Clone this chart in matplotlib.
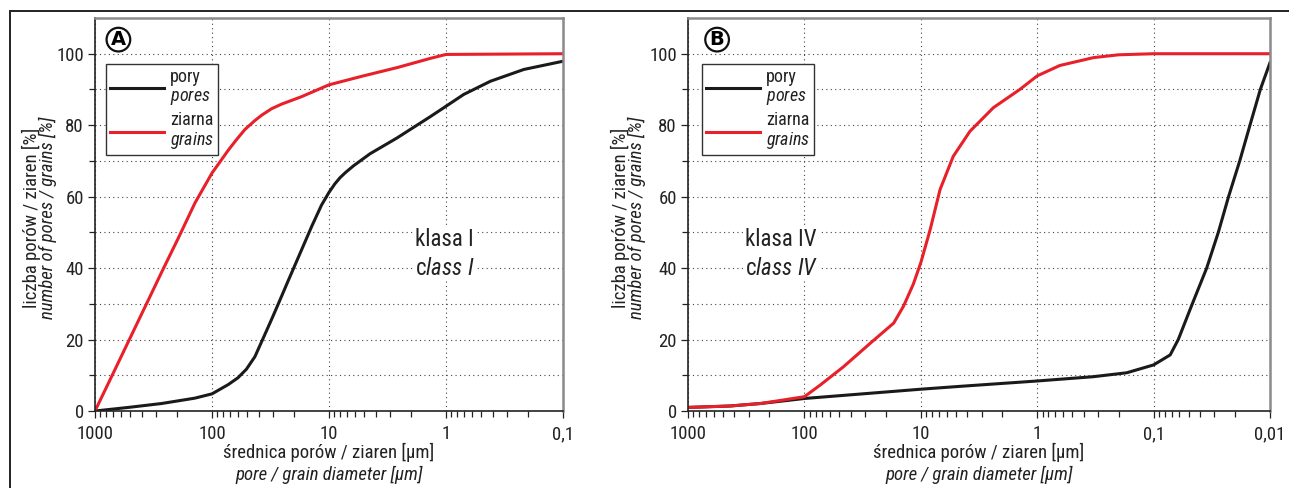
import matplotlib
matplotlib.use("Agg")
import matplotlib.pyplot as plt
from matplotlib import font_manager as fm
from matplotlib.patches import Rectangle
from matplotlib.ticker import FixedLocator, FixedFormatter, NullFormatter

installed = {f.name for f in fm.fontManager.ttflist}
FONT = next((n for n in ["Roboto Condensed", "Archivo Narrow", "Liberation Sans Narrow",
                         "PT Sans Narrow", "Asap Condensed"] if n in installed), "DejaVu Sans")
plt.rcParams["font.family"] = [FONT, "DejaVu Sans"]
plt.rcParams["mathtext.fontset"] = "custom"
plt.rcParams["mathtext.rm"] = FONT
plt.rcParams["mathtext.it"] = FONT + ":italic"

# ---- data (diameter in um, cumulative %) ----
a_pores_d = [1000, 519, 269, 140, 100, 72.6, 60, 50.8, 43, 36.6, 31, 27.1, 22.3, 19.5, 16, 14.0,
             11.6, 10, 8.9, 8.05, 7.2, 6.19, 4.46, 2.63, 1.36, 1, 0.706, 0.417, 0.216, 0.1]
a_pores_v = [0, 1.0, 2.1, 3.6, 4.8, 7.4, 9.3, 11.7, 15.2, 20.3, 25.6, 30.0, 36.5, 40.9, 47.4, 51.8,
             57.6, 61.2, 63.6, 65.3, 66.8, 68.6, 72.0, 76.4, 82.4, 85.3, 88.6, 92.3, 95.6, 97.9]
a_grains_d = [1000, 720, 519, 374, 269, 194, 140, 100, 72.6, 61.6, 52.3, 43, 37.6, 31, 25.4, 17.1,
              10, 5.08, 2.63, 1.36, 1, 0.1]
a_grains_v = [0, 9.7, 19.4, 29.1, 38.9, 48.4, 58.2, 66.6, 73.0, 76.0, 78.8, 81.3, 82.8, 84.6, 85.9,
              88.0, 91.3, 93.8, 96.1, 98.7, 99.8, 100]

b_pores_d = [1000, 435, 238, 100, 10, 4.6, 1, 0.33, 0.17, 0.1, 0.072, 0.0614, 0.0465, 0.035,
             0.0278, 0.0227, 0.0182, 0.01486, 0.01211, 0.01]
b_pores_v = [1, 1.4, 2.1, 3.5, 6.1, 6.9, 8.4, 9.6, 10.7, 12.9, 15.7, 20, 30, 40,
             50, 60, 70, 80, 90, 97.5]
b_grains_d = [1000, 435, 238, 100, 72.9, 46.1, 27.1, 17.1, 14.1, 11.6, 10, 8.32, 6.83, 5.26, 3.78,
              2.38, 1.41, 1, 0.64, 0.33, 0.2, 0.1, 0.01]
b_grains_v = [1, 1.4, 2.1, 4.0, 7.3, 12.4, 19, 24.6, 29.3, 35.5, 41.5, 50.7, 62, 71.3, 78.3,
              84.9, 90, 93.8, 96.7, 98.9, 99.7, 100, 100]

a_xticks = [1000, 100, 10, 1, 0.1]
a_xlabels = ["1000", "100", "10", "1", "0,1"]
b_xticks = [1000, 100, 10, 1, 0.1, 0.01]
b_xlabels = ["1000", "100", "10", "1", "0,1", "0,01"]

W, H = 1289, 488


def it(s):
    s = s.replace(" ", "\\ ").replace("%", "\\%")
    return "$\\mathit{" + s + "}$"


def panel(fig, ax, letter, xticks, xlabels, pores, grains, klasa, cls, txt_xy, ylab_x):
    ax.plot(pores[0], pores[1], color="#1a1a1a", lw=2.2, label="pory\n" + it("pores"))
    ax.plot(grains[0], grains[1], color="#e8202a", lw=2.2, label="ziarna\n" + it("grains"))
    ax.set_xscale("log")
    ax.set_xlim(xticks[0], xticks[-1])
    ax.set_ylim(0, 110)

    minors = [k * t for t in xticks[1:] for k in range(2, 10)]
    ax.xaxis.set_major_locator(FixedLocator(xticks))
    ax.xaxis.set_major_formatter(FixedFormatter(xlabels))
    ax.xaxis.set_minor_locator(FixedLocator(minors))
    ax.xaxis.set_minor_formatter(NullFormatter())
    ax.set_yticks([0, 20, 40, 60, 80, 100])
    ax.set_yticks([10, 30, 50, 70, 90], minor=True)
    ax.tick_params(which="both", direction="out", labelsize=13.5, width=0.9, color="#222",
                   labelcolor="#222")
    ax.tick_params(which="major", length=5, pad=3)
    ax.tick_params(axis="x", which="major", pad=5)
    ax.tick_params(which="minor", length=4)

    ax.grid(True, which="major", axis="x", ls=(0, (1, 3)), color="#444", lw=0.8)
    ax.grid(True, which="both", axis="y", ls=(0, (1, 3)), color="#444", lw=0.8)
    ax.set_axisbelow(True)

    for s in ("left", "bottom"):
        ax.spines[s].set_color("#222")
        ax.spines[s].set_linewidth(1.2)
    for s in ("top", "right"):
        ax.spines[s].set_color("#8a8a8a")
        ax.spines[s].set_linewidth(1.8)

    # axis titles: Polish line upright, English line italic
    bb = ax.get_position()
    cx = (bb.x0 + bb.x1) / 2
    fig.text(cx, 1 - 452 / H, "średnica porów / ziaren [μm]", ha="center", va="center",
             fontsize=13.5, color="#222")
    fig.text(cx, 1 - 475 / H, "pore / grain diameter [μm]", ha="center", va="center",
             fontsize=13.5, style="italic", color="#222")
    fig.text(ylab_x[0] / W, 1 - 218 / H, "liczba porów / ziaren [%]", ha="center", va="center",
             rotation=90, fontsize=13.5, color="#222")
    fig.text(ylab_x[1] / W, 1 - 218 / H, "number of pores / grains [%]", ha="center",
             va="center", rotation=90, fontsize=13.5, style="italic", color="#222")

    leg = ax.legend(loc="upper left", bbox_to_anchor=(0.024, 0.882), fontsize=13,
                    handlelength=3.0, handletextpad=0.35, labelspacing=0.25,
                    borderpad=0.2, borderaxespad=0, fancybox=False, framealpha=1)
    leg.get_frame().set_edgecolor("#333")
    leg.get_frame().set_linewidth(1.0)
    for t in leg.get_texts():
        t.set_linespacing(1.05)
        t.set_color("#222")

    ax.text(0.05, 0.945, letter, transform=ax.transAxes, ha="center", va="center",
            fontsize=14, fontweight="bold", family="DejaVu Sans",
            bbox=dict(boxstyle="circle,pad=0.12", fc="white", ec="#111", lw=1.6))
    ax.text(txt_xy[0], txt_xy[1], klasa + "\n" + cls, transform=ax.transAxes,
            ha="left", va="center", fontsize=16.5, color="#222", linespacing=1.3,
            bbox=dict(fc="white", ec="none", pad=1))


fig = plt.figure(figsize=(W / 100, H / 100), dpi=100)
ax_a = fig.add_axes([95 / W, 1 - 411 / H, 468 / W, 393 / H])
ax_b = fig.add_axes([688 / W, 1 - 411 / H, 582 / W, 393 / H])

panel(fig, ax_a, "A", a_xticks, a_xlabels, (a_pores_d, a_pores_v), (a_grains_d, a_grains_v),
      "klasa I", "c" + it("lass I"), ((415 - 95) / 468, (411 - 254) / 393), (31, 48))
panel(fig, ax_b, "B", b_xticks, b_xlabels, (b_pores_d, b_pores_v), (b_grains_d, b_grains_v),
      "klasa IV", "c" + it("lass IV"), ((745 - 688) / 582, (411 - 254) / 393), (620, 637))

# outer frame (top and left edges visible)
fig.add_artist(Rectangle((10 / W, -0.5), 2, 1.5 - 11 / H, transform=fig.transFigure,
                         fill=False, ec="#222", lw=1.4))

fig.savefig("out.png", dpi=100)
